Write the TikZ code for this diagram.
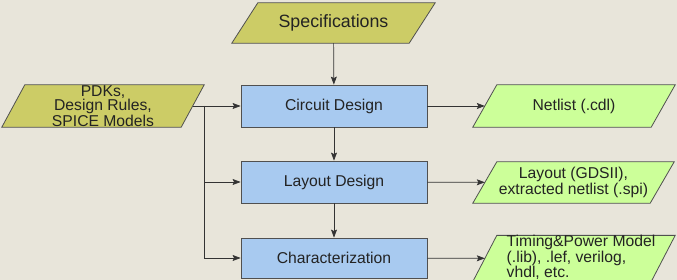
\documentclass[tikz,border=0pt]{standalone}
\usepackage{fontspec}
\setmainfont{Liberation Sans}
\usetikzlibrary{arrows.meta,positioning,backgrounds}
\definecolor{bgbeige}{RGB}{232,229,218}
\definecolor{olivefill}{RGB}{204,204,102}
\definecolor{bluefill}{RGB}{168,202,240}
\definecolor{greenfill}{RGB}{204,255,153}
\definecolor{edgegray}{RGB}{80,80,80}
\definecolor{textgray}{RGB}{35,35,35}
\tikzset{
  stepbox/.style={draw=edgegray, fill=bluefill, line width=0.8pt,
    minimum width=186pt, minimum height=42pt, inner sep=0pt,
    text=textgray, font=\fontsize{15.7}{13}\selectfont},
  iobox/.style={minimum width=178pt, minimum height=42pt, inner sep=0pt,
    align=center, text=textgray, font=\fontsize{15.7}{13}\selectfont},
  paraline/.style={draw=edgegray, line width=0.8pt},
  flow/.style={draw=black!80, line width=0.7pt, -{Stealth[length=8pt,width=6pt,inset=1.5pt]}}
}
% slanted frame round an io node: #1 node, #2 half slant, #3 fill
\newcommand{\paraframe}[3]{%
  \path[paraline, fill=#3] ([xshift=#2]#1.north west) -- ([xshift=#2]#1.north east)
    -- ([xshift=-#2]#1.south east) -- ([xshift=-#2]#1.south west) -- cycle;}
\begin{document}
\begin{tikzpicture}[x=1pt,y=1pt]
  \useasboundingbox (0,0) rectangle (677,-280);
  % inputs
  \node[iobox, minimum width=177pt, minimum height=40pt,
        font=\fontsize{17.8}{14}\selectfont] (spec) at (333.5,-23) {Specifications};
  \node[iobox, minimum width=179pt] (pdk) at (103,-106) {PDKs,\\Design Rules,\\SPICE Models};
  % design steps
  \node[stepbox] (circuit) at (334,-106) {Circuit Design};
  \node[stepbox] (layout) at (334,-182) {Layout Design};
  \node[stepbox, minimum height=40pt] (charac) at (334,-258) {Characterization};
  % outputs
  \node[iobox] (netlist) at (574,-106) {Netlist (.cdl)};
  \node[iobox, minimum width=177pt, minimum height=41pt] (gds) at (573.5,-182.5) {Layout (GDSII),\\extracted netlist (.spi)};
  \node[iobox, minimum height=40pt] (timing) at (574,-258.5)
    {\hspace*{14pt}\begin{tabular}{@{}l@{}}Timing\&Power Model\\(.lib), .lef, verilog,\\vhdl, etc.\end{tabular}};
  \begin{scope}[on background layer]
    \fill[bgbeige] (0,0) rectangle (677,-280);
    \paraframe{spec}{13pt}{olivefill}
    \paraframe{pdk}{11.5pt}{olivefill}
    \paraframe{netlist}{12pt}{greenfill}
    \paraframe{gds}{12pt}{greenfill}
    \paraframe{timing}{12pt}{greenfill}
  \end{scope}
  % connectors
  \coordinate[right=11.5pt of pdk.east] (split);
  \draw[flow] (spec) -- (circuit);
  \draw[flow] (circuit) -- (layout);
  \draw[flow] (layout) -- (charac);
  \draw[flow] (pdk.east) -- (circuit.west);
  \draw[flow] (split) |- (layout.west);
  \draw[flow] (split) |- (charac.west);
  \draw[flow] (circuit) -- (netlist);
  \draw[flow] (layout) -- (gds);
  \draw[flow] (charac) -- (timing);
\end{tikzpicture}
\end{document}
